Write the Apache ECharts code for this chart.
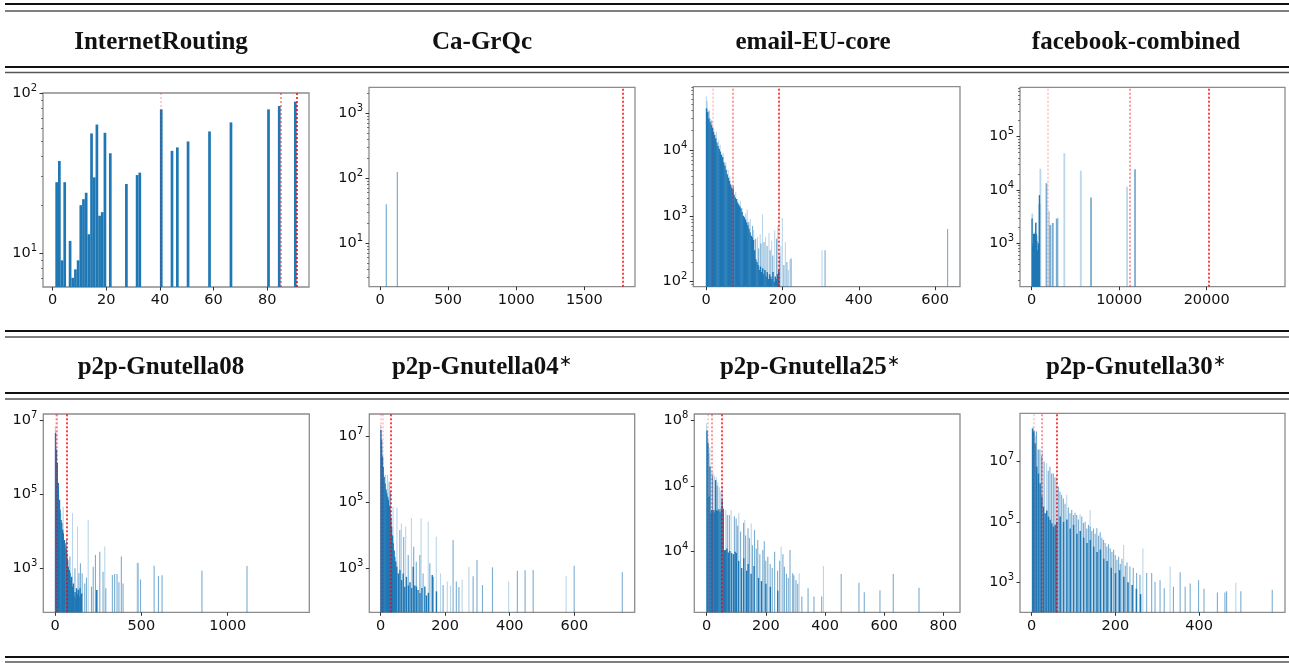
<!DOCTYPE html>
<html><head><meta charset="utf-8">
<script src="https://cdn.jsdelivr.net/npm/echarts@6/dist/echarts.min.js"></script>
<style>html,body{margin:0;padding:0;background:#fff}#c{width:1289px;height:663px}</style>
</head><body><div id="c"></div><script>
// ---------- DATA ----------
const titles = ['InternetRouting','Ca-GrQc','email-EU-core','facebook-combined','p2p-Gnutella08','p2p-Gnutella04','p2p-Gnutella25','p2p-Gnutella30'];
const starred = [false,false,false,false,false,true,true,true];

const xTicks = [[0,20,40,60,80],[0,500,1000,1500],[0,200,400,600],[0,10000,20000],[0,500,1000],[0,200,400,600],[0,200,400,600,800],[0,200,400]];
const yTicks = [[10,100],[10,100,1000],[100,1000,10000],[1000,10000,100000],[1e3,1e5,1e7],[1e3,1e5,1e7],[1e4,1e6,1e8],[1e3,1e5,1e7]];

// InternetRouting
const irCore = [[1.5,27.7],[2.5,37.6],[3.5,9.0],[4.5,27.7],[6.5,11.9],[7.5,7.0],[8.5,7.9],[9.5,9.0],[10.5,19.9],[11.5,21.7],[12.5,23.8],[13.5,13.1],[14.5,55.9],[15.5,29.7],[16.5,63.5],[17.5,17.1],[18.5,18.0],[19.5,56.4],[21.5,42],[27.5,27],[31.5,30.7],[32.5,31.8],[40.5,79],[44.5,43.5],[46.5,45.7],[50.5,49.8],[58.5,57.5],[66.5,65.5],[80.5,79],[84.5,83],[90.5,88.3]];
const irLines = [[40.4,0],[85,1],[91,2]];

// Ca-GrQc
const caMid = [[46,40],[127,125]];
const caLines = [[1779,2]];

// email-EU-core
const emCore = [[1,43000],[4,38000],[7,30000],[10,27000],[13,24000],[16,22000],[19,19000],[22,17000],[25,15000],[28,13000],[31,11500],[34,10500],[37,9500],[40,8500],[43,7800],[46,6500],[49,5800],[52,5000],[55,4300],[58,3800],[61,3400],[64,3000],[67,2700],[70,2500],[73,2100],[76,1900],[79,1800],[82,1600],[85,1500],[88,1400],[91,1300],[94,1150],[97,1000],[100,950],[103,880],[106,800],[109,720],[112,640],[115,560],[118,500],[121,470],[124,430],[127,300],[130,220],[133,200],[136,180],[139,150],[142,170],[145,140],[148,160],[151,130],[154,150],[157,120],[160,140],[163,110],[166,130],[169,120],[172,110],[175,140],[178,100],[181,120],[184,110],[187,130],[190,150]];
const emMid = [[8,40000],[15,28000],[66,2500],[72,2800],[80,1600],[86,1200],[112,800],[122,700],[130,450],[138,320],[144,380],[152,400],[160,350],[168,300],[175,250],[185,450],[193,250],[204,180],[212,200],[223,225],[312,300],[633,630]];
const emLight = [[1,65000],[3,55000],[12,30000],[20,22000],[27,19000],[33,14000],[37,12000],[45,9000],[52,6500],[58,5000],[62,4000],[68,2900],[78,2300],[83,1800],[90,1700],[95,1300],[100,1000],[104,1100],[108,1250],[116,900],[125,600],[135,480],[142,520],[148,1050],[156,480],[165,550],[172,420],[180,600],[188,700],[196,350],[200,930],[208,400],[216,150],[220,220],[304,300]];
const emLines = [[16.5,0],[70,1],[190,2]];

// facebook-combined
const fbCore = [[40,2900],[100,900],[160,1000],[220,1500],[280,1400],[340,1500],[400,1200],[460,2400],[520,1500],[580,1100],[640,700],[700,750],[760,1000],[880,8000]];
const fbMid = [[850,5500],[1655,13400],[2100,2200],[2380,2400],[2830,2900],[6750,7200],[11780,24600]];
const fbLight = [[40,3600],[300,1600],[460,2500],[560,1400],[960,25000],[1960,4000],[2950,3000],[3700,49000],[5580,23000],[10870,11500]];
const fbLines = [[1812,0],[11170,1],[20180,2]];

// p2p-Gnutella08
const g08Core = [[3,4.5e6],[8,1.6e6],[13,690000],[19,200000],[25,70000],[29,38000],[35,20000],[39,16600],[44,11000],[48,8800],[54,5800],[58,4700],[64,3450],[68,2550],[73,1680],[77,1100],[83,900],[87,730],[92,480],[96,590],[102,320],[106,390],[110,180],[116,230],[120,150],[125,290],[130,200],[135,260],[140,170],[145,290],[150,190],[154,210],[241,260]];
const g08Mid = [[68,5800],[87,2070],[116,1000],[139,730],[148,1360],[158,730],[173,390],[183,560],[212,320],[222,1100],[235,2300],[244,260],[260,2800],[279,810],[295,290],[333,660],[346,700],[360,700],[371,420],[385,2070],[395,390],[482,1380],[496,500],[575,1170],[600,620],[621,650],[852,860],[1113,1150]];
const g08Light = [[3,6.8e6],[23,95000],[29,70000],[35,30000],[48,46000],[102,31000],[131,13300],[193,20000],[289,3840],[477,1420]];
const g08Lines = [[5,0],[12,1],[68,2]];

// p2p-Gnutella04
const g04Core = [[1,1.6e7],[3,8e6],[6,2.5e6],[8,1.2e6],[11,600000],[14,380000],[17,250000],[19,190000],[22,150000],[24,120000],[27,80000],[29,59000],[32,35000],[34,18000],[37,10000],[39,5760],[42,3500],[44,2250],[47,1600],[50,1120],[55,700],[60,890],[65,440],[70,700],[75,277],[80,550],[86,300],[91,380],[96,250],[101,1120],[106,300],[111,280],[116,220],[122,178],[128,250],[137,280],[142,150],[148,180],[160,630],[173,200]];
const g04Mid = [[10,700000],[27,430000],[31,215000],[60,14600],[72,9000],[86,2530],[103,4500],[111,1590],[122,2530],[132,700],[153,1420],[164,550],[194,310],[225,7300],[235,400],[243,270],[287,570],[299,1790],[316,310],[347,1070],[424,850],[448,870],[473,890],[600,1200],[749,755]];
const g04Light = [[1,2.3e7],[5,5e6],[15.5,700000],[21.7,700000],[39,74000],[51,71000],[65,23000],[78,18600],[96,33000],[126,33000],[148,26000],[173,9100],[186,700],[207,400],[217,300],[253,460],[274,1120],[397,400],[575,580]];
const g04Lines = [[2,0],[8,0],[32,2]];

// p2p-Gnutella25
const g25Core = [[1,5e7],[4,2e7],[8,470000],[11,3.9e6],[14,145000],[17,180000],[20,160000],[24,180000],[27,150000],[30,1.5e6],[33,180000],[37,170000],[41,190000],[45,160000],[49,200000],[52,370000],[56,200000],[60,10700],[64,10700],[68,12000],[73,9000],[78,10000],[84,8700],[90,8000],[96,9500],[100,8700],[108,5000],[118,3000],[125,6000],[135,2500],[140,4000],[150,2000],[160,3500],[175,1500],[185,1200],[200,1000],[215,800],[240,600]];
const g25Mid = [[20,2e6],[36,1e6],[70,127000],[77,127000],[94,116000],[100,100000],[105,60000],[115,40000],[125,74000],[132,30000],[140,50000],[145,25000],[155,15000],[162,44000],[168,12000],[173,21700],[180,8000],[190,10700],[195,20000],[200,5000],[207,6700],[215,4000],[222,3000],[230,9500],[240,2500],[247,5000],[258,8000],[263,3300],[270,2000],[276,1500],[282,10700],[291,2100],[295,1800],[302,1290],[308,1000],[322,400],[343,720],[363,400],[389,400],[455,1960],[515,1070],[533,540],[586,630],[631,1960],[718,750]];
const g25Light = [[0,8.5e7],[5,2.5e7],[8,1e7],[11,1.5e7],[18,2.7e6],[22,2.5e6],[27,2e6],[33,1.8e6],[38,1.3e6],[43,900000],[48,700000],[53,1e6],[65,180000],[83,180000],[109,150000],[129,90000],[151,70000],[252,13600],[313,2100],[395,3470]];
const g25Lines = [[3,0],[17,1],[52,2]];

// p2p-Gnutella30
const g30Core = [[2,1.26e8],[5,1e8],[8,4e7],[12,6.8e6],[16,4e6],[20,1.9e6],[24,690000],[28,320000],[32,195000],[36,240000],[40,150000],[44,118000],[48,90000],[52,69000],[56,80000],[60,100000],[68,150000],[76,100000],[84,120000],[92,60000],[100,80000],[108,40000],[116,50000],[124,30000],[132,20000],[140,25000],[148,15000],[156,10000],[164,12000],[172,6000],[180,5000],[190,3000],[200,2000],[210,2500],[220,1500],[230,1000],[240,800],[250,600],[260,400]];
const g30Mid = [[12,1e8],[16,2.5e7],[20,2.5e7],[24,1.5e7],[30,1e7],[40,5e6],[44,6.8e6],[48,4e6],[52,4e6],[56,3e6],[64,1.5e6],[68,1e6],[72,800000],[76,600000],[80,400000],[88,300000],[92,195000],[96,250000],[100,170000],[104,200000],[108,170000],[112,120000],[120,150000],[124,91000],[128,100000],[132,60000],[136,80000],[140,70000],[144,50000],[148,60000],[152,40000],[156,61000],[160,35000],[164,45000],[168,30000],[172,25000],[176,20000],[180,15200],[184,18000],[188,13000],[192,10000],[196,12000],[200,8000],[204,5500],[208,7000],[212,4000],[216,6000],[224,3500],[228,4500],[235,3300],[243,3000],[251,2000],[259,1750],[275,2000],[287,2000],[295,1020],[307,1160],[317,630],[339,700],[355,2130],[367,700],[379,900],[399,1160],[412,600],[444,450],[462,450],[466,500],[500,500],[575,560]];
const g30Light = [[4,1.5e8],[8,1.1e8],[10,7e7],[16,2.5e7],[26,2e7],[36,8.9e6],[60,3e6],[84,800000],[116,180000],[140,250000],[220,17000],[266,13000],[331,3300],[488,950]];
const g30Lines = [[4,0],[24,1],[60,2]];

const coreSets = [irCore, [], emCore, fbCore, g08Core, g04Core, g25Core, g30Core];
const midSets = [[], caMid, emMid, fbMid, g08Mid, g04Mid, g25Mid, g30Mid];
const lightSets = [[], [], emLight, fbLight, g08Light, g04Light, g25Light, g30Light];
const lineSets = [irLines, caLines, emLines, fbLines, g08Lines, g04Lines, g25Lines, g30Lines];

// ---------- LAYOUT (positions / ranges / styles) ----------
const layout = [
  {l:43, t:93, w:266, h:194, x:[-3.6,95.6], y:[6.13,100], minor:true, cw:2.7, mw:1.2, lw:1.2},
  {l:369, t:87.3, w:266, h:199.4, x:[-81,1872], y:[2.15,2512], minor:true, cw:1.2, mw:1.2, lw:1.2},
  {l:693.3, t:86.7, w:266.7, h:200, x:[-33.8,665], y:[84,91600], minor:true, cw:1.5, mw:1.1, lw:1.1},
  {l:1020, t:87.3, w:265, h:199.4, x:[-1340,28950], y:[153,845000], minor:true, cw:1.3, mw:1.8, lw:1.8},
  {l:43.3, t:414, w:266, h:198.3, x:[-68,1473], y:[65,1.45e7], minor:false, cw:1.4, mw:1.1, lw:1.1},
  {l:369.3, t:414, w:265.4, h:198.3, x:[-35,787], y:[46,4.9e7], minor:false, cw:1.4, mw:1.1, lw:1.1},
  {l:694.3, t:414, w:265.7, h:198.3, x:[-42,856], y:[132,1.6e8], minor:false, cw:1.4, mw:1.1, lw:1.1},
  {l:1020, t:413.3, w:265, h:199, x:[-28,605], y:[100,4e8], minor:false, cw:1.5, mw:1.1, lw:1.1}
];
const titleX = [161, 482, 813, 1136, 161, 482, 810, 1136];
const titleY = [43, 43, 43, 43, 368, 368, 368, 368];
const ruleYs = [[4,11],[67,72.5],[331,337],[393,399],[657,662]];

const BLUE = '#1f77b4', MID = 'rgba(31,119,180,0.6)', LIGHT = 'rgba(31,119,180,0.3)';
const REDS = ['rgba(255,0,0,0.25)','rgba(255,0,0,0.55)','rgba(255,0,0,1)'];
const FONT = 'DejaVu Sans';

function minorTicks(lo, hi) {
  const out = [];
  for (let e = Math.floor(Math.log10(lo)); e <= Math.ceil(Math.log10(hi)); e++) {
    for (let m = 2; m <= 9; m++) { const v = m * Math.pow(10, e); if (v >= lo && v <= hi) out.push(v); }
  }
  return out;
}
const powFmt = v => '10{s|' + Math.round(Math.log10(v)) + '}';

const grid = [], xAxis = [], yAxis = [], series = [];
layout.forEach((L, i) => {
  grid.push({left:L.l, top:L.t, width:L.w, height:L.h, show:true, borderColor:'#8c8c8c', borderWidth:1.3, backgroundColor:'transparent', containLabel:false});
  xAxis.push({type:'value', gridIndex:i, position:'bottom', min:L.x[0], max:L.x[1], axisLine:{show:false, onZero:false}, splitLine:{show:false},
    axisTick:{show:true, customValues:xTicks[i], length:3.5, lineStyle:{color:'#333', width:1}},
    axisLabel:{show:true, customValues:xTicks[i], margin:6, color:'#111', fontFamily:FONT, fontSize:14.5, formatter: v => String(v)}});
  const yMain = yAxis.length;
  yAxis.push({type:'log', logBase:10, gridIndex:i, position:'left', min:L.y[0], max:L.y[1], axisLine:{show:false, onZero:false}, splitLine:{show:false},
    axisTick:{show:true, customValues:yTicks[i], length:3.5, lineStyle:{color:'#333', width:1}},
    axisLabel:{show:true, customValues:yTicks[i], margin:6, color:'#111', fontFamily:FONT, fontSize:14.5, lineHeight:20, formatter:powFmt,
      rich:{s:{fontFamily:FONT, fontSize:10, lineHeight:12, verticalAlign:'top', color:'#111'}}}});
  if (L.minor) {
    yAxis.push({type:'log', logBase:10, gridIndex:i, position:'left', offset:0, min:L.y[0], max:L.y[1], axisLine:{show:false, onZero:false}, splitLine:{show:false},
      axisTick:{show:true, customValues:minorTicks(L.y[0], L.y[1]), length:2, lineStyle:{color:'#555', width:0.8}},
      axisLabel:{show:false}});
  }
  const mk = (data, color, w, name) => ({type:'bar', name, xAxisIndex:i, yAxisIndex:yMain, data, barWidth:w, barGap:'-100%',
    itemStyle:{color}, clip:true, silent:true, animation:false});
  if (lightSets[i].length) series.push(mk(lightSets[i], LIGHT, L.lw, 'light'+i));
  if (midSets[i].length) series.push(mk(midSets[i], MID, L.mw, 'mid'+i));
  const core = mk(coreSets[i], BLUE, L.cw, 'core'+i);
  core.markLine = {silent:true, symbol:['none','none'], label:{show:false}, animation:false,
    data: lineSets[i].map(([x, lv]) => ({xAxis:x, lineStyle:{color:REDS[lv], type:[2,2], width:1.5}}))};
  series.push(core);
});

const graphic = [];
ruleYs.forEach(([a, b]) => {
  graphic.push({type:'line', shape:{x1:5, y1:a, x2:1289, y2:a}, style:{stroke:'#111', lineWidth:2}, silent:true});
  graphic.push({type:'line', shape:{x1:5, y1:b, x2:1289, y2:b}, style:{stroke:'#555', lineWidth:1.5}, silent:true});
});
titles.forEach((t, i) => {
  graphic.push({type:'text', x:titleX[i], y:titleY[i], silent:true,
    style:{text: starred[i] ? '{a|' + t + '}{b|∗}' : '{a|' + t + '}', textAlign:'center', textVerticalAlign:'middle',
      rich:{a:{fontFamily:'Liberation Serif', fontWeight:'bold', fontSize:25, lineHeight:28, fill:'#111'},
            b:{fontFamily:'DejaVu Sans', fontSize:16, lineHeight:18, verticalAlign:'top', fill:'#111'}}}});
});

const chart = echarts.init(document.getElementById('c'), null, {renderer:'canvas'});
chart.setOption({animation:false, backgroundColor:'#fff', grid, xAxis, yAxis, series, graphic});
</script></body></html>
